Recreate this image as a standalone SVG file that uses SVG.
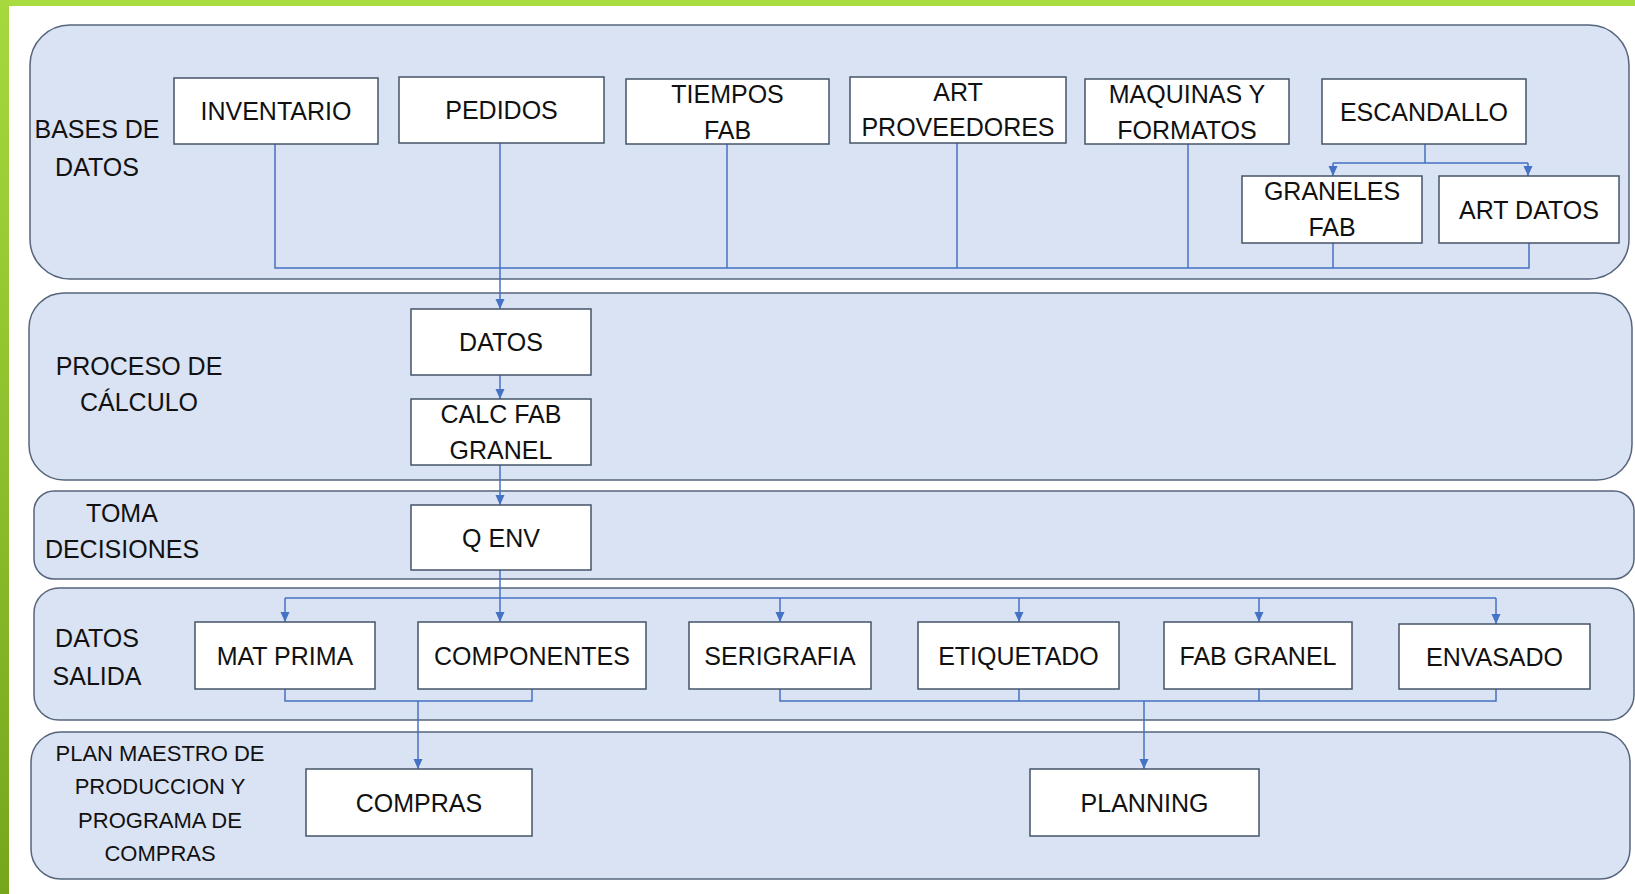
<svg xmlns="http://www.w3.org/2000/svg" width="1635" height="894" viewBox="0 0 1635 894">
<defs>
<linearGradient id="gl" x1="0" y1="0" x2="0" y2="1">
<stop offset="0" stop-color="#a6d93e"/>
<stop offset="1" stop-color="#76a61c"/>
</linearGradient>
<marker id="ar" viewBox="0 0 10 10" refX="10" refY="5" markerWidth="10" markerHeight="10" markerUnits="userSpaceOnUse" orient="auto">
<path d="M0,0.5 L10,5 L0,9.5 Z" fill="#4472c4"/>
</marker>
<style>
.panel{fill:#dae3f3;stroke:#56657c;stroke-width:1.5}
.box{fill:#ffffff;stroke:#44546a;stroke-width:1.5}
.t{font-family:"Liberation Sans",Arial,sans-serif;font-size:25px;fill:#111111;text-anchor:middle}
.s{font-family:"Liberation Sans",Arial,sans-serif;font-size:22px;fill:#111111;text-anchor:middle}
.c{fill:none;stroke:#4472c4;stroke-width:1.5}
.a{fill:none;stroke:#4472c4;stroke-width:1.5;marker-end:url(#ar)}
</style>
</defs>
<rect x="0" y="0" width="1635" height="894" fill="#ffffff"/>
<rect x="0" y="0" width="1635" height="6" fill="#a8dc40"/>
<rect x="0" y="0" width="9" height="894" fill="url(#gl)"/>

<g id="lanes">
<g id="lane-bases"><rect class="panel" x="30" y="25" width="1599" height="254" rx="40"/>
<text class="t" x="97" y="138">BASES DE</text><text class="t" x="97" y="176">DATOS</text></g>
<g id="lane-proceso"><rect class="panel" x="29" y="293" width="1603" height="187" rx="35"/>
<text class="t" x="139" y="375">PROCESO DE</text><text class="t" x="139" y="411">CÁLCULO</text></g>
<g id="lane-toma"><rect class="panel" x="34" y="491" width="1600" height="88" rx="20"/>
<text class="t" x="122" y="522">TOMA</text><text class="t" x="122" y="558">DECISIONES</text></g>
<g id="lane-salida"><rect class="panel" x="34" y="588" width="1600" height="132" rx="25"/>
<text class="t" x="97" y="647">DATOS</text><text class="t" x="97" y="685">SALIDA</text></g>
<g id="lane-plan"><rect class="panel" x="31" y="732" width="1599" height="147" rx="30"/>
<text class="s" x="160" y="761">PLAN MAESTRO DE</text><text class="s" x="160" y="794">PRODUCCION Y</text>
<text class="s" x="160" y="828">PROGRAMA DE</text><text class="s" x="160" y="861">COMPRAS</text></g>
</g>

<g id="connectors">
<path class="c" d="M275,144 V268 H1529 V243"/>
<path class="c" d="M727,144 V268"/>
<path class="c" d="M957,143 V268"/>
<path class="c" d="M1188,144 V268"/>
<path class="c" d="M1333,243 V268"/>
<path class="a" d="M500,143 V309"/>
<path class="c" d="M1425,144 V163 M1333,163 H1528"/>
<path class="a" d="M1333,163 V176"/>
<path class="a" d="M1528,163 V176"/>
<path class="a" d="M500,375 V399"/>
<path class="a" d="M500,465 V505"/>
<path class="a" d="M500,570 V622"/>
<path class="c" d="M285,598 H1496"/>
<path class="a" d="M285,598 V622"/>
<path class="a" d="M780,598 V622"/>
<path class="a" d="M1019,598 V622"/>
<path class="a" d="M1259,598 V622"/>
<path class="a" d="M1496,598 V624"/>
<path class="c" d="M285,689 V701 H532 V689"/>
<path class="a" d="M418,701 V769"/>
<path class="c" d="M780,689 V701 H1496 V689 M1019,689 V701 M1259,689 V701"/>
<path class="a" d="M1144,701 V769"/>
</g>

<g id="n-inventario"><rect class="box" x="174" y="78" width="204" height="66"/><text class="t" x="276" y="120">INVENTARIO</text></g>
<g id="n-pedidos"><rect class="box" x="399" y="77" width="205" height="66"/><text class="t" x="501.5" y="119">PEDIDOS</text></g>
<g id="n-tiempos"><rect class="box" x="626" y="79" width="203" height="65"/><text class="t" x="727.5" y="102.5">TIEMPOS</text><text class="t" x="727.5" y="138.5">FAB</text></g>
<g id="n-artprov"><rect class="box" x="850" y="77" width="216" height="66"/><text class="t" x="958" y="101">ART</text><text class="t" x="958" y="136">PROVEEDORES</text></g>
<g id="n-maquinas"><rect class="box" x="1085" y="79" width="204" height="65"/><text class="t" x="1187" y="103">MAQUINAS Y</text><text class="t" x="1187" y="139">FORMATOS</text></g>
<g id="n-escandallo"><rect class="box" x="1322" y="79" width="204" height="65"/><text class="t" x="1424" y="120.5">ESCANDALLO</text></g>
<g id="n-graneles"><rect class="box" x="1242" y="176" width="180" height="67"/><text class="t" x="1332" y="200">GRANELES</text><text class="t" x="1332" y="236">FAB</text></g>
<g id="n-artdatos"><rect class="box" x="1439" y="176" width="180" height="67"/><text class="t" x="1529" y="218.5">ART DATOS</text></g>
<g id="n-datos"><rect class="box" x="411" y="309" width="180" height="66"/><text class="t" x="501" y="351">DATOS</text></g>
<g id="n-calc"><rect class="box" x="411" y="399" width="180" height="66"/><text class="t" x="501" y="423">CALC FAB</text><text class="t" x="501" y="459">GRANEL</text></g>
<g id="n-qenv"><rect class="box" x="411" y="505" width="180" height="65"/><text class="t" x="501" y="547">Q ENV</text></g>
<g id="n-matprima"><rect class="box" x="195" y="622" width="180" height="67"/><text class="t" x="285" y="665">MAT PRIMA</text></g>
<g id="n-componentes"><rect class="box" x="418" y="622" width="228" height="67"/><text class="t" x="532" y="665">COMPONENTES</text></g>
<g id="n-serigrafia"><rect class="box" x="689" y="622" width="182" height="67"/><text class="t" x="780" y="665">SERIGRAFIA</text></g>
<g id="n-etiquetado"><rect class="box" x="918" y="622" width="201" height="67"/><text class="t" x="1018.5" y="665">ETIQUETADO</text></g>
<g id="n-fabgranel"><rect class="box" x="1164" y="622" width="188" height="67"/><text class="t" x="1258" y="665">FAB GRANEL</text></g>
<g id="n-envasado"><rect class="box" x="1399" y="624" width="191" height="65"/><text class="t" x="1494.5" y="666">ENVASADO</text></g>
<g id="n-compras"><rect class="box" x="306" y="769" width="226" height="67"/><text class="t" x="419" y="812">COMPRAS</text></g>
<g id="n-planning"><rect class="box" x="1030" y="769" width="229" height="67"/><text class="t" x="1144.5" y="812">PLANNING</text></g>
</svg>
